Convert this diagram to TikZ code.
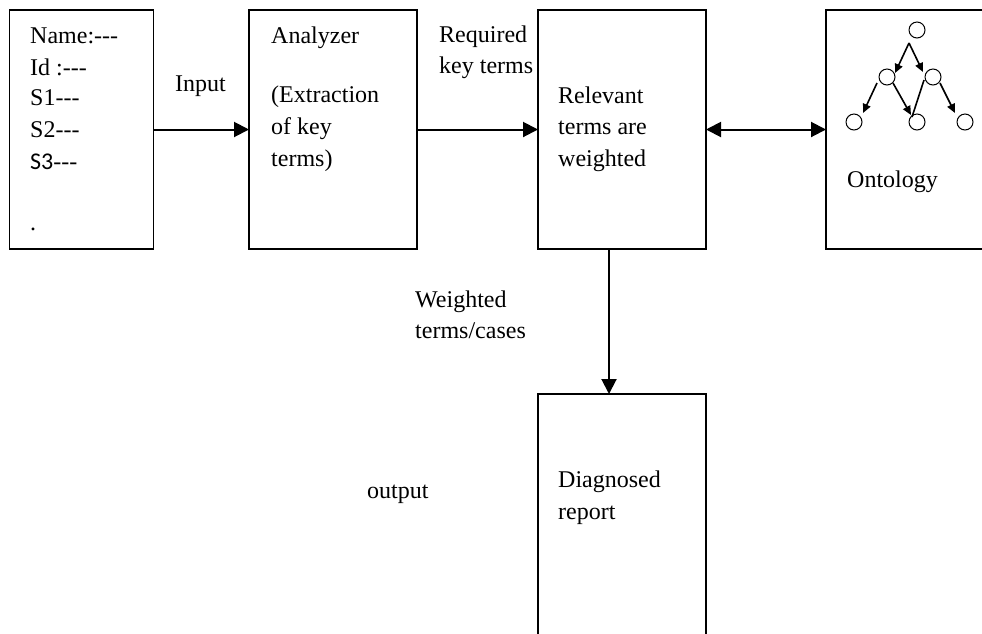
\documentclass[tikz,border=0pt]{standalone}
\usepackage{fontspec}
\setmainfont{Liberation Serif}[Ligatures=TeXOff]
\newfontfamily\carl{Carlito}[Ligatures=TeXOff]
\usetikzlibrary{arrows.meta,calc}
\begin{document}
\begin{tikzpicture}[x=1pt,y=-1pt,
  box/.style={draw,line width=1.8pt,inner sep=0pt,outer sep=0pt},
  txt/.style={anchor=base west,inner sep=0pt,font=\fontsize{24}{30}\selectfont},
  arr/.style={line width=2pt,-{Triangle[length=15pt,width=15pt]}},
  darr/.style={line width=2pt,{Triangle[length=15pt,width=15pt]}-{Triangle[length=15pt,width=15pt]}},
  onode/.style={draw,circle,line width=1pt,minimum size=16pt,inner sep=0pt},
  oarr/.style={line width=1.6pt,-{Triangle[length=9pt,width=8pt]}}]
\clip (0,0) rectangle (982,633);
\fill[white] (0,0) rectangle (982,633);
% boxes
\node[box,minimum width=144pt,minimum height=239pt] (b1) at (81.5,129.5) {};
\node[box,minimum width=168pt,minimum height=239pt] (b2) at (333,129.5) {};
\node[box,minimum width=168pt,minimum height=239pt] (b3) at (622,129.5) {};
\node[box,minimum width=180pt,minimum height=239pt] (b4) at (916,129.5) {};
\node[box,minimum width=168pt,minimum height=250pt] (b5) at (622,519) {};
% box texts
\node[txt] (t1a) at (30,43) {Name:---};
\node[txt] (t1b) at (30,75) {Id :---};
\node[txt] (t1c) at (30,105) {S1---};
\node[txt] (t1d) at (30,137) {S2---};
\node[txt] (t1e) at (30,169) {{\carl S3}---};
\node[txt] (t1f) at (30,230) {.};
\node[txt] (t2a) at (271,43) {Analyzer};
\node[txt] (t2b) at (271,102) {(Extraction};
\node[txt] (t2c) at (271,134) {of key};
\node[txt] (t2d) at (271,166) {terms)};
\node[txt] (t3a) at (558,103) {Relevant};
\node[txt] (t3b) at (558,134) {terms are};
\node[txt] (t3c) at (558,166) {weighted};
\node[txt] (t4) at (847,187) {Ontology};
\node[txt] (t5a) at (558,487) {Diagnosed};
\node[txt] (t5b) at (558,519) {report};
% labels
\node[txt] (lin) at (175,91) {Input};
\node[txt] (lreq1) at (439,42) {Required};
\node[txt] (lreq2) at (439,73) {key terms};
\node[txt] (lw1) at (415,307) {Weighted};
\node[txt] (lw2) at (415,338) {terms/cases};
\node[txt] (lout) at (367,498) {output};
% connectors
\draw[arr] (b1.east) -- (b2.west);
\draw[arr] (b2.east) -- (b3.west);
\draw[darr] (b3.east) -- (b4.west);
\draw[arr] ([xshift=-13pt]b3.south) -- ([xshift=-13pt]b5.north);
% ontology graph
\node[onode] (ot) at (917,30) {};
\node[onode] (oml) at (887,77) {};
\node[onode] (omr) at (933,77) {};
\node[onode] (obl) at (854,122) {};
\node[onode] (obm) at (917,122) {};
\node[onode] (obr) at (965,122) {};
\coordinate (os) at ($(ot)+(-8,13)$);
\draw[oarr] (os) -- ($(oml)+(8,-4)$);
\draw[oarr] (os) -- ($(omr)+(-10,-5)$);
\draw[oarr] ($(oml)+(-10,6)$) -- ($(obl)+(9,-9)$);
\draw[oarr] ($(oml)+(6,6)$) -- ($(obm)+(-6,-7)$);
\draw[line width=1.6pt] ($(omr)+(-9,3)$) -- ($(obm)+(-5,-5)$);
\draw[oarr] ($(omr)+(7,6)$) -- ($(obr)+(-10,-9)$);
\end{tikzpicture}
\end{document}
